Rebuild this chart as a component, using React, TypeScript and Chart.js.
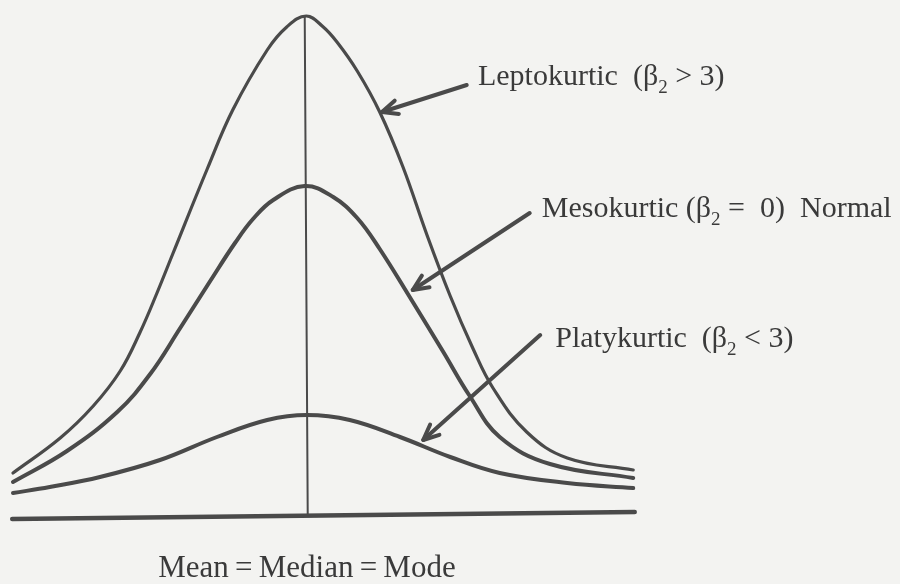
import { useEffect, useRef } from "react";
import { Chart, registerables } from "chart.js";

Chart.register(...registerables);

// x: distance from the centre (mean), y: height above the base line
const leptokurtic: [number, number][] = [
  [-3.92, 8.6], [-3.29, 15.6], [-2.85, 22.0], [-2.49, 29.0], [-2.23, 36.6],
  [-2.0, 44.6], [-1.79, 52.4], [-1.33, 69.4], [-0.99, 81.2], [-0.53, 93.2],
  [-0.27, 97.8], [-0.01, 100], [0.21, 97.9], [0.4, 94.8], [0.67, 89.0],
  [0.97, 80.8], [1.28, 69.8], [1.6, 56.2], [1.91, 44.0], [2.21, 33.6],
  [2.48, 25.6], [2.93, 16.8], [3.47, 11.6], [4.35, 9.2],
];

const mesokurtic: [number, number][] = [
  [-3.92, 6.8], [-3.2, 13.0], [-2.53, 20.8], [-2.09, 28.4], [-1.69, 37.6],
  [-1.29, 47.0], [-0.96, 54.6], [-0.72, 59.4], [-0.45, 63.2], [-0.03, 66],
  [0.35, 63.8], [0.67, 59.6], [0.97, 53.4], [1.37, 43.8], [1.81, 33.0],
  [2.17, 24.0], [2.57, 15.8], [3.24, 10.4], [4.35, 7.6],
];

const platykurtic: [number, number][] = [
  [-3.92, 4.6], [-3.43, 5.8], [-2.76, 7.8], [-1.96, 11.2], [-1.2, 15.8],
  [-0.53, 19.2], [0, 20.2], [0.57, 19.2], [1.24, 15.8], [1.91, 11.8],
  [2.57, 8.6], [3.47, 6.6], [4.35, 5.6],
];

const baseLine: [number, number][] = [[-3.93, -0.6], [4.37, 0.8]];
const centreLine: [number, number][] = [[-0.03, 100], [0.01, 0]];

// arrows: [tailX, tailY, tipX, tipY]
const arrows: [number, number, number, number][] = [
  [2.13, 86.2, 1.0, 80.8],
  [2.97, 60.6, 1.41, 45.2],
  [3.11, 36.2, 1.55, 15.2],
];

// labels: [before subscript, subscript, after subscript]
const labelParts: [string, string, string][] = [
  ["Leptokurtic\u00A0\u00A0(\u03B2", "2", "\u00A0> 3)"],
  ["Mesokurtic\u00A0(\u03B2", "2", "\u00A0= \u00A00)\u00A0 Normal"],
  ["Platykurtic\u00A0\u00A0(\u03B2", "2", "\u00A0< 3)"],
];
const labelAnchors: [number, number][] = [
  [2.28, 86.2],
  [3.13, 59.8],
  [3.31, 33.8],
];
const axisCaption = "Mean\u2009=\u2009Median\u2009=\u2009Mode";
const axisCaptionAnchor: [number, number] = [0, -12.2];

const INK = "#4a4a4a";
const TEXT = "#3a3a3a";
const PAPER = "#f3f3f1";

const toPts = (a: [number, number][]) => a.map(([x, y]) => ({ x, y }));

const annotations = {
  id: "annotations",
  beforeDraw(chart: any) {
    const { ctx, width, height } = chart;
    ctx.save();
    ctx.fillStyle = PAPER;
    ctx.fillRect(0, 0, width, height);
    ctx.restore();
  },
  afterDatasetsDraw(chart: any) {
    const { ctx } = chart;
    const xs = chart.scales.x;
    const ys = chart.scales.y;
    ctx.save();
    // arrows
    ctx.strokeStyle = INK;
    ctx.lineCap = "round";
    ctx.lineJoin = "round";
    arrows.forEach(([tx, ty, hx, hy]) => {
      const x1 = xs.getPixelForValue(tx);
      const y1 = ys.getPixelForValue(ty);
      const x2 = xs.getPixelForValue(hx);
      const y2 = ys.getPixelForValue(hy);
      ctx.lineWidth = 4;
      ctx.beginPath();
      ctx.moveTo(x1, y1);
      ctx.lineTo(x2, y2);
      ctx.stroke();
      const ang = Math.atan2(y1 - y2, x1 - x2);
      const len = 17;
      const spread = 0.42;
      ctx.beginPath();
      ctx.moveTo(x2 + len * Math.cos(ang + spread), y2 + len * Math.sin(ang + spread));
      ctx.lineTo(x2, y2);
      ctx.lineTo(x2 + len * Math.cos(ang - spread), y2 + len * Math.sin(ang - spread));
      ctx.stroke();
    });
    // labels
    ctx.fillStyle = TEXT;
    ctx.textBaseline = "alphabetic";
    ctx.textAlign = "left";
    const big = "30px 'Liberation Serif', 'DejaVu Serif', serif";
    const small = "19px 'Liberation Serif', 'DejaVu Serif', serif";
    labelParts.forEach(([a, s, b], i) => {
      let x = xs.getPixelForValue(labelAnchors[i][0]);
      const y = ys.getPixelForValue(labelAnchors[i][1]);
      ctx.font = big;
      ctx.fillText(a, x, y);
      x += ctx.measureText(a).width;
      ctx.font = small;
      ctx.fillText(s, x, y + 8);
      x += ctx.measureText(s).width;
      ctx.font = big;
      ctx.fillText(b, x, y);
    });
    ctx.font = "31px 'Liberation Serif', 'DejaVu Serif', serif";
    ctx.textAlign = "center";
    ctx.fillText(
      axisCaption,
      xs.getPixelForValue(axisCaptionAnchor[0]),
      ys.getPixelForValue(axisCaptionAnchor[1])
    );
    ctx.restore();
  },
};

export default function App() {
  const ref = useRef<HTMLCanvasElement | null>(null);
  useEffect(() => {
    if (!ref.current) return;
    const line = (data: [number, number][], w: number, tension: number) => ({
      data: toPts(data),
      borderColor: INK,
      borderWidth: w,
      pointRadius: 0,
      fill: false,
      tension,
      borderCapStyle: "round" as const,
    });
    const chart = new Chart(ref.current, {
      type: "line",
      data: {
        datasets: [
          line(baseLine, 4.5, 0),
          line(centreLine, 2, 0),
          line(leptokurtic, 3.2, 0.4),
          line(mesokurtic, 4, 0.4),
          line(platykurtic, 4, 0.4),
        ],
      },
      options: {
        responsive: false,
        animation: false,
        layout: { padding: 0 },
        plugins: { legend: { display: false }, tooltip: { enabled: false } },
        scales: {
          x: { type: "linear", min: -4.093, max: 7.907, display: false },
          y: { type: "linear", min: -13.6, max: 103.2, display: false },
        },
      },
      plugins: [annotations],
    });
    return () => chart.destroy();
  }, []);
  return (
    <div style={{ position: "fixed", left: 0, top: 0, width: 900, height: 584 }}>
      <canvas ref={ref} width={900} height={584} />
    </div>
  );
}
